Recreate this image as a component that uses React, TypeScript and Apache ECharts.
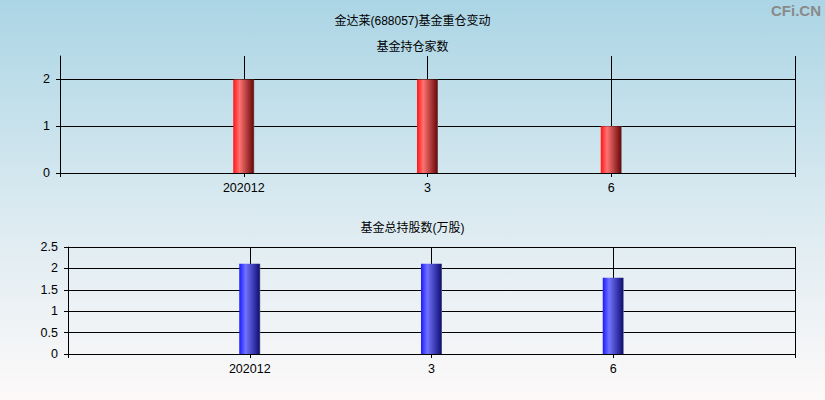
import React, { useEffect, useRef } from "react";
import * as echarts from "echarts";

const categories = ["", "202012", "3", "6", ""];
const fundCount = ["-", 2, 2, 1, "-"];
const fundShares = ["-", 2.11, 2.11, 1.78, "-"];
const mainTitle = "金达莱(688057)基金重仓变动";
const topTitle = "基金持仓家数";
const bottomTitle = "基金总持股数(万股)";
const countTicks = [0, 1, 2];

const FONT = 'Arial, "Liberation Sans", "Noto Sans CJK SC", sans-serif';

export default function App() {
  const ref = useRef<HTMLDivElement>(null);
  useEffect(() => {
    if (!ref.current) return;
    const chart = echarts.init(ref.current, null, { renderer: "svg" });
    const redGrad = new echarts.graphic.LinearGradient(0, 0, 1, 0, [
      { offset: 0, color: "#ff1515" },
      { offset: 0.3, color: "#ff7272" },
      { offset: 0.95, color: "#6e0c0c" },
      { offset: 1, color: "#808080" },
    ]);
    const blueGrad = new echarts.graphic.LinearGradient(0, 0, 1, 0, [
      { offset: 0, color: "#1a1aff" },
      { offset: 0.3, color: "#7272ff" },
      { offset: 0.95, color: "#12127a" },
      { offset: 1, color: "#808080" },
    ]);
    const xAxisBase = (gridIndex: number) => ({
      type: "category",
      gridIndex,
      data: categories,
      boundaryGap: false,
      axisLine: { show: true, lineStyle: { color: "#000", width: 1 } },
      axisTick: { show: true, interval: 0, length: 4, lineStyle: { color: "#000" } },
      axisLabel: { interval: 0, color: "#000", fontSize: 12.5, fontFamily: FONT, margin: 9 },
      splitLine: { show: true, interval: 0, lineStyle: { color: "#000", width: 1 } },
    });
    chart.setOption({
      animation: false,
      backgroundColor: new echarts.graphic.LinearGradient(0, 0, 0, 1, [
        { offset: 0, color: "#abd5e5" },
        { offset: 0.5, color: "#d8e9f0" },
        { offset: 1, color: "#fdf9f9" },
      ]),
      title: [
        { text: mainTitle, left: "center", top: 10, textStyle: { fontSize: 12, fontWeight: "normal", color: "#000", fontFamily: FONT } },
        { text: topTitle, left: "center", top: 36, textStyle: { fontSize: 12, fontWeight: "normal", color: "#000", fontFamily: FONT } },
        { text: bottomTitle, left: "center", top: 217, textStyle: { fontSize: 12, fontWeight: "normal", color: "#000", fontFamily: FONT } },
      ],
      graphic: [
        {
          type: "text",
          right: 4,
          top: 3,
          style: { text: "CFi.CN", fill: "#8a8a8a", font: 'bold 15px Arial, "Liberation Sans", sans-serif' },
        },
      ],
      grid: [
        { left: 60, right: 30, top: 56, height: 117 },
        { left: 68, right: 30, top: 247, height: 107 },
      ],
      xAxis: [xAxisBase(0), xAxisBase(1)],
      yAxis: [
        {
          type: "value",
          gridIndex: 0,
          min: 0,
          max: 2.5,
          interval: 1,
          axisLine: { show: true, lineStyle: { color: "#000" } },
          axisTick: { show: true, length: 4, customValues: countTicks, lineStyle: { color: "#000" } },
          axisLabel: { color: "#000", fontSize: 12.5, fontFamily: FONT, margin: 10, customValues: countTicks },
          splitLine: { show: true, lineStyle: { color: "#000" } },
        },
        {
          type: "value",
          gridIndex: 1,
          min: 0,
          max: 2.5,
          interval: 0.5,
          axisLine: { show: true, lineStyle: { color: "#000" } },
          axisTick: { show: true, length: 4, lineStyle: { color: "#000" } },
          axisLabel: { color: "#000", fontSize: 12.5, fontFamily: FONT, margin: 10 },
          splitLine: { show: true, lineStyle: { color: "#000" } },
        },
      ],
      series: [
        {
          type: "bar",
          xAxisIndex: 0,
          yAxisIndex: 0,
          data: fundCount,
          barWidth: 21,
          itemStyle: { color: redGrad },
        },
        {
          type: "bar",
          xAxisIndex: 1,
          yAxisIndex: 1,
          data: fundShares,
          barWidth: 21,
          itemStyle: { color: blueGrad },
        },
      ],
    });
    return () => chart.dispose();
  }, []);
  return (
    <div
      ref={ref}
      style={{ position: "fixed", left: 0, top: 0, width: 825, height: 400 }}
    />
  );
}
